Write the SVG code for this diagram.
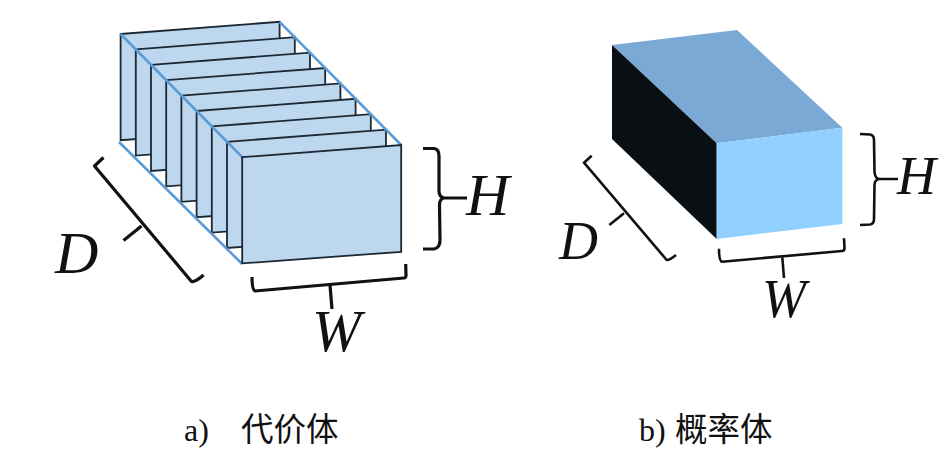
<svg xmlns="http://www.w3.org/2000/svg" width="940" height="454" viewBox="0 0 940 454">
<style>
.edge{fill:none;stroke:#5b9bd5;stroke-width:2.6}
.brace{fill:none;stroke:#111;stroke-width:3.2;stroke-linejoin:round;stroke-linecap:butt}
.thin{stroke-width:2.6}
.dim{font-family:"Liberation Serif",serif;font-style:italic;fill:#111}
.cap{font-family:"Liberation Serif",serif;font-size:32px;fill:#111}
.cjk{font-family:"Noto Sans CJK SC",sans-serif;font-size:32.500px;fill:#111}
</style>
<defs>
<polygon id="panel" points="0,0 159,-12.2 159,94.6 0,106.2" fill="#bdd7ee" stroke="#1b2733" stroke-width="1.8" stroke-linejoin="miter"/>
</defs>
<rect width="940" height="454" fill="#fff"/>
<g id="cost-volume">
<use href="#panel" x="120.6" y="34"/>
<use href="#panel" x="135.8" y="49.4"/>
<use href="#panel" x="151" y="64.8"/>
<use href="#panel" x="166.2" y="80.2"/>
<use href="#panel" x="181.4" y="95.6"/>
<use href="#panel" x="196.6" y="111"/>
<use href="#panel" x="211.8" y="126.4"/>
<use href="#panel" x="227" y="141.8"/>
<line class="edge" x1="120.6" y1="34" x2="242.2" y2="157.2"/>
<line class="edge" x1="279.6" y1="21.8" x2="401.2" y2="145"/>
<line class="edge" x1="119" y1="142" x2="242.2" y2="264"/>
<use href="#panel" x="242.2" y="157.2"/>
</g>
<g id="probability-volume">
<polygon points="612,45 737,30 842.3,127.7 716.7,143.3" fill="#7ba9d6"/>
<polygon points="612,45 716.7,143.3 716.7,239 612,139" fill="#0a0f14"/>
<polygon points="716.7,143.3 842.3,127.7 842.3,224 716.7,239" fill="#92d0ff"/>
</g>
<g id="connectors">
<path class="brace" d="M103.5,157.5 L94.5,166 L191.5,281.5 Q196,282 203.5,275"/>
<path class="brace" d="M141.500,226 L123.500,240.500"/>
<path class="brace" d="M423,148.5 L434,148.5 Q439,149 439,156 L439,191 Q439,197 444,198 L467,198 M444,198 Q439.500,199 439.500,205 L440,240 Q440,248 434,249 L423,249"/>
<path class="brace" d="M252,277 Q252,290 255,291 L404,278 Q406,278 406,275 L405.700,264"/>
<path class="brace" d="M330,285 L332,309"/>
<path class="brace thin" d="M591.700,155.700 L584,162.700 L666.700,260 Q670,260 676,255"/>
<path class="brace thin" d="M624,213.300 L609.300,225"/>
<path class="brace thin" d="M860,134 L870,134.500 Q874,135 874,140 L874.500,172 Q875,178 879,179 L898,179 M879,179 Q874.500,180 874.500,185 L874,219 Q874,224 870,224.500 L860,225"/>
<path class="brace thin" d="M719,248.700 Q719,261 722,261.700 L842,251 Q844.500,251 844.500,248 L844,238.300"/>
<path class="brace thin" d="M782.300,257.300 L784,278"/>
</g>
<g id="labels">
<text class="dim" x="55" y="272.500" font-size="60">D</text>
<text class="dim" x="466" y="215" font-size="60">H</text>
<text class="dim" x="312" y="351" font-size="60" textLength="49" lengthAdjust="spacingAndGlyphs">W</text>
<text class="dim" x="559" y="259" font-size="54">D</text>
<text class="dim" x="897" y="194" font-size="54">H</text>
<text class="dim" x="762" y="317" font-size="54" textLength="44" lengthAdjust="spacingAndGlyphs">W</text>
<text class="cap" x="184" y="441">a)</text>
<text class="cjk" x="241" y="441">代价体</text>
<text class="cap" x="639" y="441">b)</text>
<text class="cjk" x="675" y="441">概率体</text>
</g>
</svg>
